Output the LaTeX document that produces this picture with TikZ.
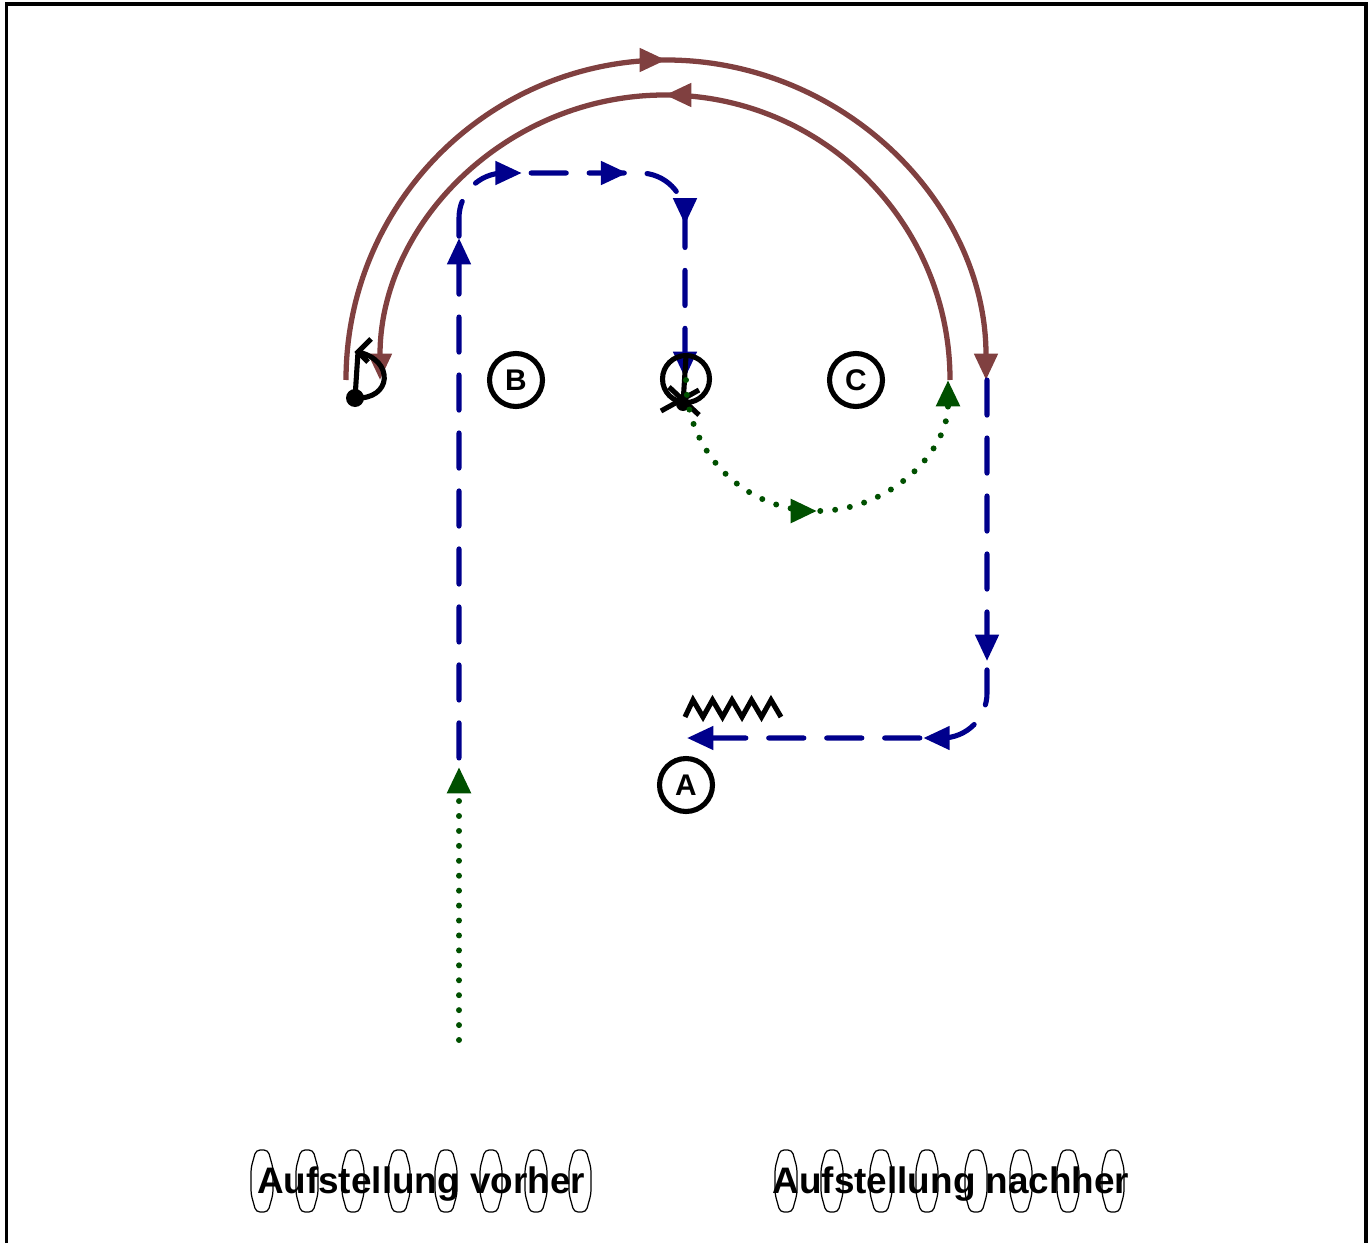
\documentclass[tikz,border=0pt]{standalone}
\usepackage{fontspec}
\setmainfont{Liberation Sans}
\usetikzlibrary{arrows.meta,decorations.markings}
\definecolor{runbrown}{RGB}{128,64,64}
\definecolor{runblue}{RGB}{0,0,140}
\definecolor{passgreen}{RGB}{0,80,0}
\tikzset{tipat/.style={postaction={decorate,decoration={markings,mark=at position #1 with {\arrow{>}}}}}}

\begin{document}
\begin{tikzpicture}[x=0.02cm,y=-0.02cm,>={Triangle[length=15pt,width=13pt]},
    brownrun/.style={runbrown,line width=3pt},
    bluerun/.style={runblue,line width=2.9pt,line cap=round,dash pattern=on 20pt off 13pt,rounded corners=0.9cm},
    greenpass/.style={passgreen,line width=3.4pt,line cap=round,dash pattern=on 0pt off 8.5pt},
    mark line/.style={line width=2.9pt},
    spot/.style={circle,draw,line width=2.9pt,minimum size=1.06cm,inner sep=0pt,font=\fontsize{17}{19}\selectfont\bfseries},
    cone/.style={line width=0.7pt,rounded corners=0.08cm},
    title/.style={anchor=base,inner sep=0pt,font=\fontsize{21}{25}\selectfont\bfseries}]
    \useasboundingbox (0,0) rectangle (1371,1243);
    \draw[line width=2pt] (6.5,1243) -- (6.5,4) -- (1366,4) -- (1366,1243);
    \draw[brownrun,->,tipat=0.5] (346,380) arc (180:360:320);
    \draw[brownrun,->,tipat=0.5] (950,380) arc (360:180:285);
    \draw[bluerun,->,tipat=0.532,tipat=0.643,tipat=0.751,tipat=0.843] (459,758) -- (459,173) -- (685,173) -- (685,378);
    \draw[bluerun,->,tipat=0.44,tipat=0.63] (987,380) -- (987,738) -- (687,738);
    \fill (355,398) circle (9);
    \draw[mark line] (355,398) -- (358,352);
    \draw[mark line] (358,352) .. controls (395,360) and (392,400) .. (355,398);
    \draw[mark line] (371,339) -- (358,352) -- (368,362);
    \node[circle,draw,line width=2.9pt,minimum size=0.94cm,inner sep=0pt] (player) at (686,379) {};
    \draw[mark line] (686,356) -- (683,404);
    \fill (683,404) circle (7);
    \draw[mark line] (669,387) -- (699,415);
    \draw[mark line] (661,411) -- (699,390);
    \draw[mark line] (685,717) \foreach \i in {0,...,4} { -- ({693+19.5*\i},700) -- ({703+19.5*\i},717) };
    \draw[greenpass,->] (459,1040) -- (459,767);
    \draw[greenpass,->,tipat=0.5] (686,380) arc (180:0:131);
    \node[spot] (B) at (516,380) {B};
    \node[spot] (C) at (856,380) {C};
    \node[spot] (A) at (686,785) {A};
    \foreach \x in {262,307,353,399,446,491,536,580,786,832,881,927,976,1021,1068,1113}
        \draw[cone] (\x-6,1150) -- (\x+6,1150) -- (\x+11,1168) -- (\x+11,1194) -- (\x+6,1212) -- (\x-6,1212) -- (\x-11,1194) -- (\x-11,1168) -- cycle;
    \node[title] (vorher) at (421,1193) {Aufstellung vorher};
    \node[title] (nachher) at (951,1193) {Aufstellung nachher};
\end{tikzpicture}
\end{document}
